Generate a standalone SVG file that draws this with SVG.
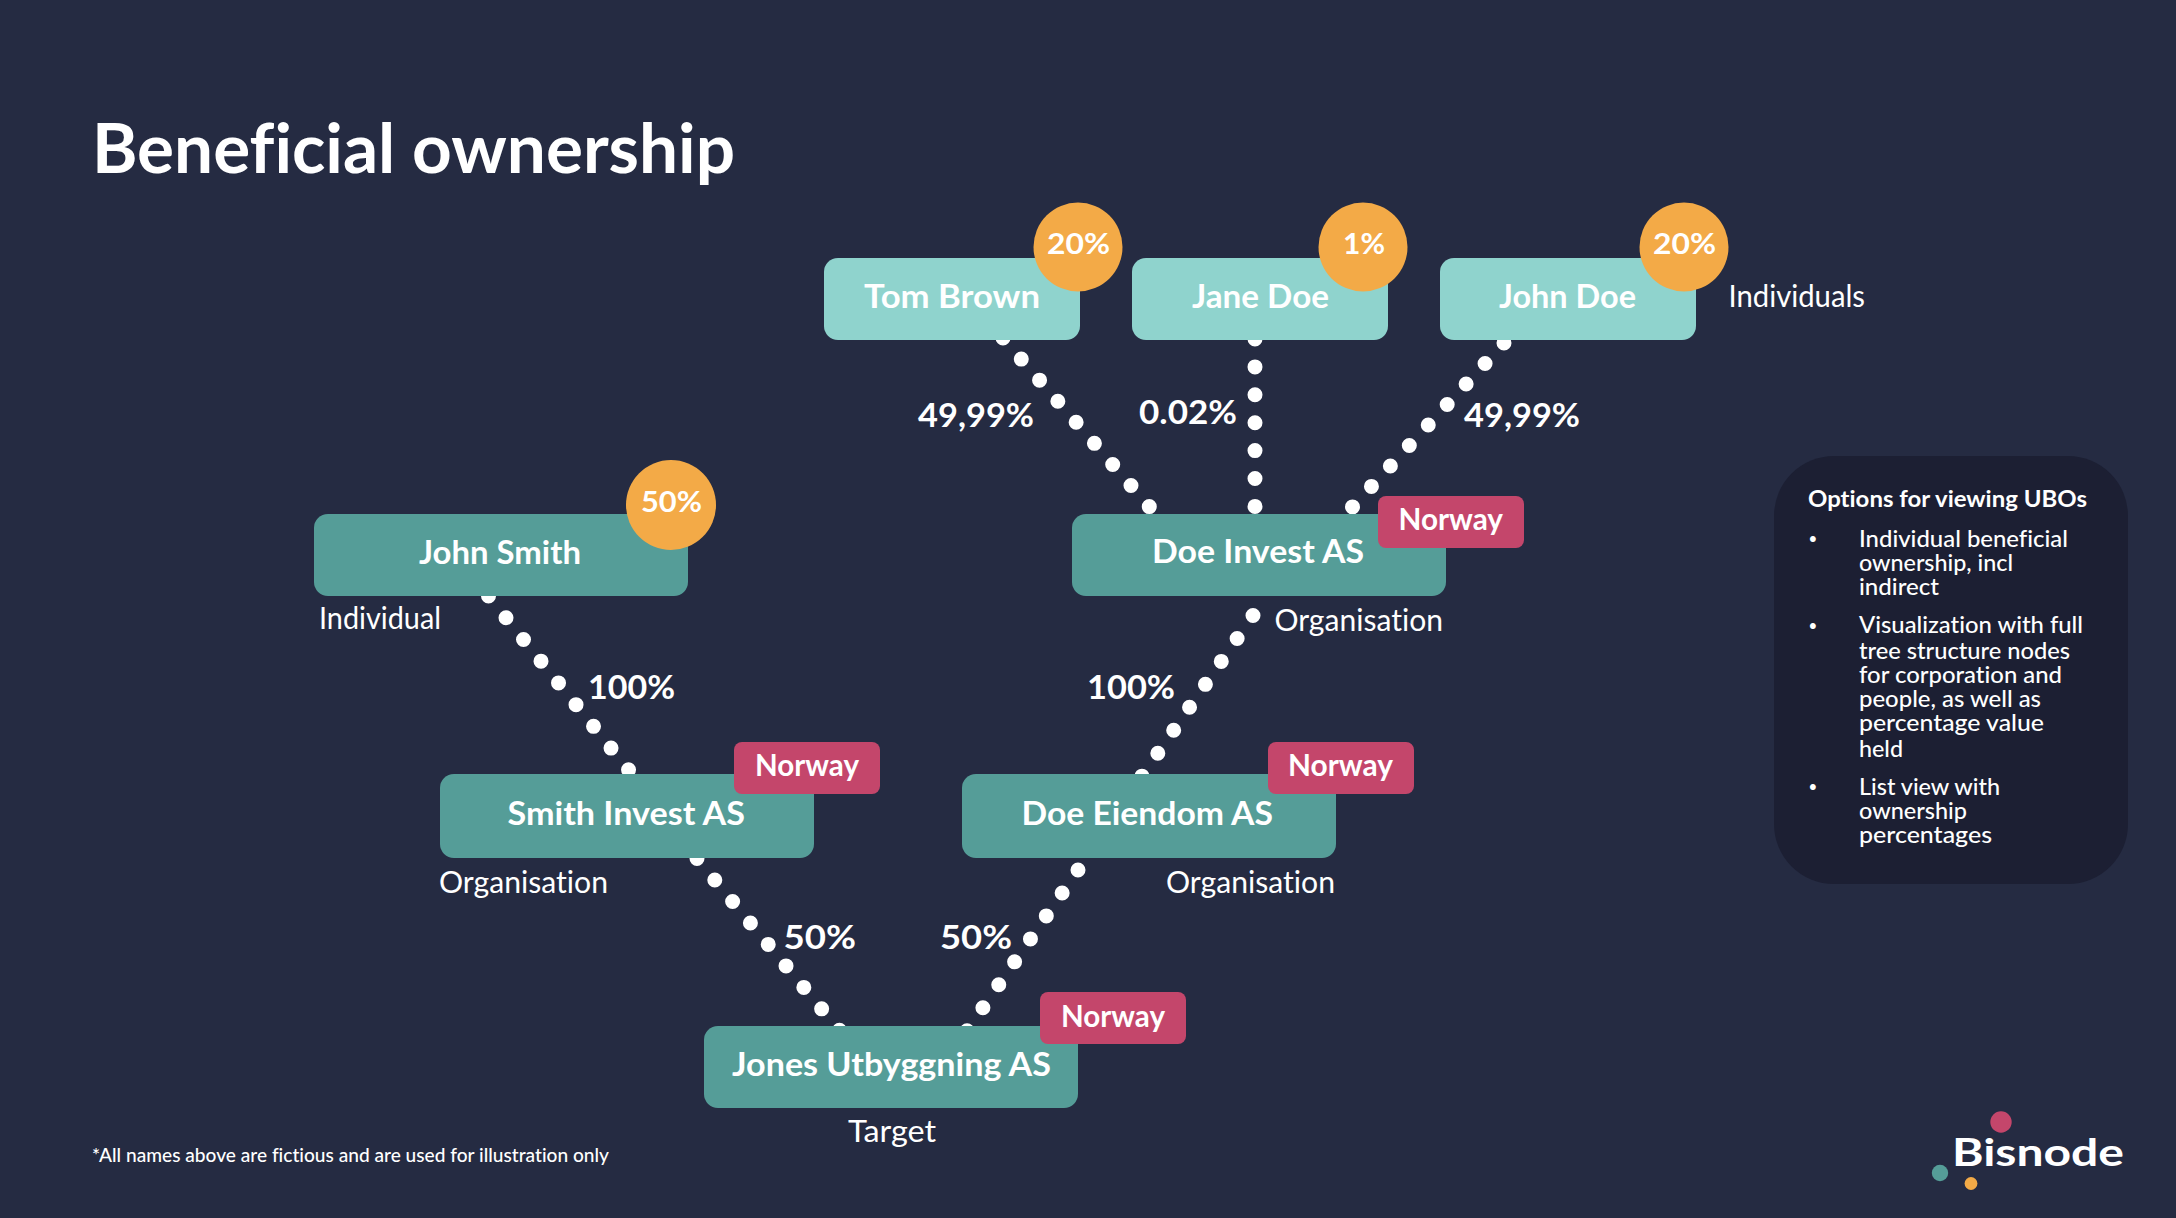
<svg xmlns="http://www.w3.org/2000/svg" width="2176" height="1218" viewBox="0 0 2176 1218">
<style>
text{font-family:"Lato","Noto Sans","Liberation Sans",sans-serif;fill:#fff;font-variant-ligatures:none}
.b{font-weight:700;font-size:33px;transform:translateY(.5px)}
.p{font-weight:700;font-size:29px;transform:translateY(.5px)}
.c{font-weight:700;font-size:30px;transform:translateY(.5px)}
.r{font-weight:400;font-size:30px;transform:translateY(.5px)}
.l{font-weight:500;font-size:23px;transform:translateY(-.5px)}
.u{font-weight:500;font-size:15px}
.t{fill:#559d98}.i{fill:#8fd3cd}.o{fill:#f3aa47}.n{fill:#c4466b}
.d{stroke:#fff;stroke-width:15;stroke-linecap:round;fill:none;stroke-dasharray:0 27.9}
</style>
<rect width="2176" height="1218" fill="#252b42"/>
<text x="92" y="172.5" font-size="68" font-weight="700" textLength="643" lengthAdjust="spacingAndGlyphs">Beneficial ownership</text>
<g id="connectors">
<line class="d" x1="1003" y1="338" x2="1150.5" y2="508"/>
<line class="d" x1="1255" y1="339" x2="1255" y2="508"/>
<line class="d" x1="1504" y1="343" x2="1351.5" y2="508"/>
<line class="d" x1="1253" y1="615.5" x2="1140" y2="779"/>
<line class="d" x1="488.5" y1="596" x2="629.5" y2="771"/>
<line class="d" x1="697" y1="858.5" x2="840" y2="1031"/>
<line class="d" x1="1078" y1="870" x2="965.5" y2="1033"/>
</g>
<g id="tom-brown"><rect class="i" x="824" y="258" width="256" height="82" rx="14"/><text class="b" x="864" y="307" textLength="176" lengthAdjust="spacingAndGlyphs">Tom Brown</text><circle class="o" cx="1078" cy="247" r="44.5"/><text class="p" x="1047" y="253" textLength="63" lengthAdjust="spacingAndGlyphs">20%</text></g>
<g id="jane-doe"><rect class="i" x="1132" y="258" width="256" height="82" rx="14"/><text class="b" x="1192" y="307" textLength="137" lengthAdjust="spacingAndGlyphs">Jane Doe</text><circle class="o" cx="1363" cy="247" r="44.5"/><text class="p" x="1343" y="253" textLength="42" lengthAdjust="spacingAndGlyphs">1%</text></g>
<g id="john-doe"><rect class="i" x="1440" y="258" width="256" height="82" rx="14"/><text class="b" x="1499" y="307" textLength="137" lengthAdjust="spacingAndGlyphs">John Doe</text><circle class="o" cx="1684" cy="247" r="44.5"/><text class="p" x="1653" y="253" textLength="63" lengthAdjust="spacingAndGlyphs">20%</text><text class="r" x="1728.5" y="306" textLength="136.5" lengthAdjust="spacingAndGlyphs">Individuals</text></g>
<g id="edge-labels">
<text class="b" x="918" y="426" textLength="116" lengthAdjust="spacingAndGlyphs">49,99%</text>
<text class="b" x="1139" y="423" textLength="98" lengthAdjust="spacingAndGlyphs">0.02%</text>
<text class="b" x="1464" y="426" textLength="116" lengthAdjust="spacingAndGlyphs">49,99%</text>
<text class="b" x="588" y="698" textLength="87" lengthAdjust="spacingAndGlyphs">100%</text>
<text class="b" x="1087" y="698" textLength="88" lengthAdjust="spacingAndGlyphs">100%</text>
<text class="b" x="783.5" y="948" textLength="72.5" lengthAdjust="spacingAndGlyphs">50%</text>
<text class="b" x="940" y="948" textLength="72" lengthAdjust="spacingAndGlyphs">50%</text>
</g>
<g id="john-smith"><rect class="t" x="314" y="514" width="374" height="82" rx="14"/><text class="b" x="419" y="563" textLength="162" lengthAdjust="spacingAndGlyphs">John Smith</text><circle class="o" cx="671" cy="505" r="45"/><text class="p" x="641" y="511.5" textLength="61" lengthAdjust="spacingAndGlyphs">50%</text><text class="r" x="319" y="628" textLength="122" lengthAdjust="spacingAndGlyphs">Individual</text></g>
<g id="doe-invest"><rect class="t" x="1072" y="514" width="374" height="82" rx="14"/><text class="b" x="1152" y="562" textLength="212" lengthAdjust="spacingAndGlyphs">Doe Invest AS</text><rect class="n" x="1378" y="496" width="146" height="52" rx="8"/><text class="c" x="1398.5" y="529" textLength="104.5" lengthAdjust="spacingAndGlyphs">Norway</text><text class="r" x="1274.5" y="630" textLength="168.5" lengthAdjust="spacingAndGlyphs">Organisation</text></g>
<g id="smith-invest"><rect class="t" x="440" y="774" width="374" height="84" rx="14"/><text class="b" x="507.5" y="824" textLength="237.5" lengthAdjust="spacingAndGlyphs">Smith Invest AS</text><rect class="n" x="734" y="742" width="146" height="52" rx="8"/><text class="c" x="755" y="775" textLength="104" lengthAdjust="spacingAndGlyphs">Norway</text><text class="r" x="439" y="892" textLength="169" lengthAdjust="spacingAndGlyphs">Organisation</text></g>
<g id="doe-eiendom"><rect class="t" x="962" y="774" width="374" height="84" rx="14"/><text class="b" x="1021.5" y="824" textLength="251.5" lengthAdjust="spacingAndGlyphs">Doe Eiendom AS</text><rect class="n" x="1268" y="742" width="146" height="52" rx="8"/><text class="c" x="1288" y="775" textLength="105" lengthAdjust="spacingAndGlyphs">Norway</text><text class="r" x="1166" y="892" textLength="169" lengthAdjust="spacingAndGlyphs">Organisation</text></g>
<g id="jones-utbyggning"><rect class="t" x="704" y="1026" width="374" height="82" rx="14"/><text class="b" x="732" y="1075" textLength="319" lengthAdjust="spacingAndGlyphs">Jones Utbyggning AS</text><rect class="n" x="1040" y="992" width="146" height="52" rx="8"/><text class="c" x="1061" y="1026" textLength="104" lengthAdjust="spacingAndGlyphs">Norway</text><text class="r" x="848" y="1141.5" textLength="88" lengthAdjust="spacingAndGlyphs">Target</text></g>
<g id="ubo-panel"><rect x="1774" y="456" width="354" height="428" rx="60" fill="#1c1f33"/>
<text x="1808" y="507" font-size="23" font-weight="700" textLength="279" lengthAdjust="spacingAndGlyphs">Options for viewing UBOs</text>
<text class="u" x="1808.5" y="544">•</text><text class="u" x="1808.5" y="630.5">•</text><text class="u" x="1808.5" y="792">•</text>
<text class="l" x="1859" y="547.5" textLength="209" lengthAdjust="spacingAndGlyphs">Individual beneficial</text>
<text class="l" x="1859" y="571.5" textLength="154" lengthAdjust="spacingAndGlyphs">ownership, incl</text>
<text class="l" x="1859" y="595.5" textLength="80" lengthAdjust="spacingAndGlyphs">indirect</text>
<text class="l" x="1859" y="633.5" textLength="224" lengthAdjust="spacingAndGlyphs">Visualization with full</text>
<text class="l" x="1859" y="659.5" textLength="211" lengthAdjust="spacingAndGlyphs">tree structure nodes</text>
<text class="l" x="1859" y="683" textLength="203" lengthAdjust="spacingAndGlyphs">for corporation and</text>
<text class="l" x="1859" y="707" textLength="182" lengthAdjust="spacingAndGlyphs">people, as well as</text>
<text class="l" x="1859" y="731" textLength="185" lengthAdjust="spacingAndGlyphs">percentage value</text>
<text class="l" x="1859" y="757" textLength="44" lengthAdjust="spacingAndGlyphs">held</text>
<text class="l" x="1859" y="795" textLength="141" lengthAdjust="spacingAndGlyphs">List view with</text>
<text class="l" x="1859" y="819.5" textLength="108" lengthAdjust="spacingAndGlyphs">ownership</text>
<text class="l" x="1859" y="843.5" textLength="133" lengthAdjust="spacingAndGlyphs">percentages</text>
</g>
<text x="92" y="1162" font-size="20" font-weight="500" textLength="517" lengthAdjust="spacingAndGlyphs">*All names above are fictious and are used for illustration only</text>
<g id="logo"><circle class="n" cx="2001" cy="1122" r="10.7"/><circle class="t" cx="1940" cy="1173" r="8.2"/><circle class="o" cx="1971" cy="1183.5" r="6.4"/><text x="1952" y="1165.5" font-size="38" font-weight="700" textLength="172" lengthAdjust="spacingAndGlyphs">Bisnode</text></g>
</svg>
